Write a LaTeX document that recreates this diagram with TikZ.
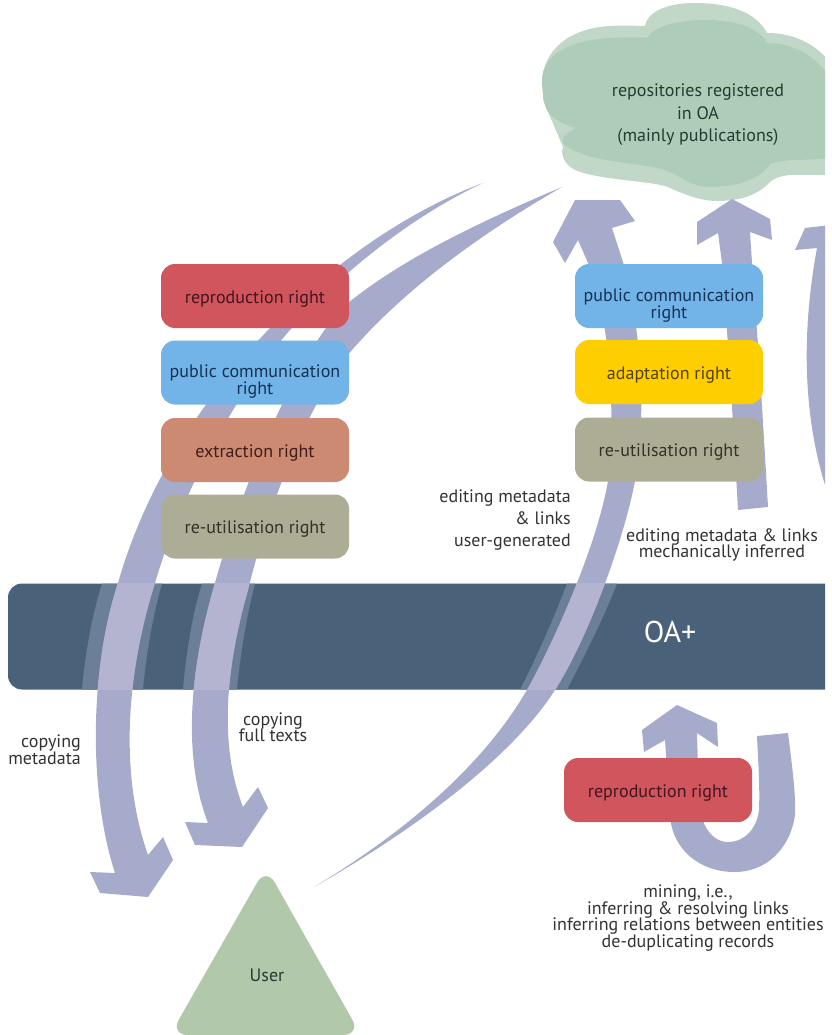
\documentclass[tikz,border=0pt]{standalone}
\usepackage{fontspec}
\setmainfont{PT Sans}
\usetikzlibrary{calc}

\definecolor{flowcol}{RGB}{166,171,204}
\definecolor{overcol}{RGB}{180,179,208}
\definecolor{halocol}{RGB}{107,127,153}
\definecolor{bandcol}{RGB}{74,97,122}
\definecolor{redcol}{RGB}{208,85,92}
\definecolor{bluecol}{RGB}{115,180,232}
\definecolor{extrcol}{RGB}{204,138,114}
\definecolor{reutcol}{RGB}{173,173,150}
\definecolor{yellcol}{RGB}{255,206,0}
\definecolor{cloudback}{RGB}{193,216,200}
\definecolor{cloudfront}{RGB}{174,205,185}
\definecolor{usercol}{RGB}{177,200,170}
\definecolor{labelcol}{RGB}{50,50,50}
\definecolor{redtxt}{RGB}{70,20,30}
\definecolor{bluetxt}{RGB}{20,50,85}
\definecolor{extrtxt}{RGB}{65,30,25}
\definecolor{reuttxt}{RGB}{50,50,40}
\definecolor{yelltxt}{RGB}{85,65,0}
\definecolor{greentxt}{RGB}{35,60,50}

\newcommand\dropone{\rule{0pt}{18pt}}
\newcommand\droptwo{\rule{0pt}{31pt}}
\AtBeginDocument{\lineskiplimit=-20pt}

% flow shapes
\def\flowA{(483,183) .. controls (330,240) and (170,400) .. (118,583) .. controls (90,668) and (88,790) .. (115,873)
  -- (90,872) -- (100,893) -- (148,897) -- (173,860) -- (163,837) -- (148,855)
  .. controls (118,770) and (128,668) .. (155,583) .. controls (185,480) and (250,375) .. (290,330) .. controls (330,285) and (400,222) .. (483,183) -- cycle}
\def\flowB{(562,187) .. controls (460,230) and (395,265) .. (348,303) .. controls (300,345) and (240,490) .. (213,590) .. controls (196,650) and (178,745) .. (208,823)
  -- (185,822) -- (195,845) -- (242,847) -- (268,808) -- (258,787) -- (243,807)
  .. controls (215,735) and (231,650) .. (248,590) .. controls (270,500) and (310,400) .. (352,350) .. controls (400,295) and (470,240) .. (562,187) -- cycle}
\def\flowC{(314,887) .. controls (400,835) and (480,770) .. (527,690) .. controls (555,640) and (597,545) .. (608,481) .. controls (615,410) and (612,330) .. (588,263) -- (578,240)
  -- (565,263) -- (553,242) -- (575,200) -- (620,200) -- (635,221) -- (612,228) -- (623,262)
  .. controls (635,300) and (650,400) .. (635,481) .. controls (625,535) and (590,635) .. (555,690) .. controls (520,745) and (440,815) .. (314,887) -- cycle}

\begin{document}
\begin{tikzpicture}[x=1pt, y=-1pt,
    flow/.style={fill=flowcol},
    rightbox/.style={minimum width=188pt, minimum height=64pt, rounded corners=14pt, inner sep=0pt, align=center, font=\fontsize{18}{17}\selectfont},
    txt/.style={text=labelcol, inner sep=0pt, align=center, font=\fontsize{18}{17}\selectfont}]

\useasboundingbox (0,0) rectangle (831,1035);

% cloud
\begin{scope}
\clip (500,0) rectangle (825,300);
\fill[cloudback] (543,80) .. controls (543,50) and (570,28) .. (610,26) .. controls (625,25) and (637,26) .. (645,26) .. controls (648,10) and (670,3) .. (695,3) .. controls (725,3) and (755,10) .. (767,33) .. controls (795,33) and (820,45) .. (835,70) -- (835,175) -- (790,175) .. controls (780,176) and (775,178) .. (770,182) .. controls (755,198) and (735,201) .. (715,201) .. controls (695,200) and (680,192) .. (665,186) .. controls (640,180) and (600,180) .. (575,170) .. controls (565,165) and (560,155) .. (563,147) -- (543,100) -- cycle;
\fill[cloudfront] (542,80) .. controls (542,55) and (570,40) .. (610,38) .. controls (625,37) and (640,37) .. (647,38) .. controls (655,25) and (680,20) .. (705,20) .. controls (730,20) and (757,25) .. (767,43) .. controls (795,43) and (820,58) .. (835,85) -- (835,158) -- (800,160) .. controls (785,160) and (775,162) .. (770,164) .. controls (760,180) and (735,187) .. (710,187) .. controls (690,187) and (680,175) .. (665,170) .. controls (640,163) and (600,162) .. (580,153) .. controls (565,148) and (560,142) .. (564,137) .. controls (567,133) and (572,130) .. (576,128) .. controls (565,125) and (548,118) .. (545,105) .. controls (543,97) and (542,88) .. (542,80) -- cycle;
\end{scope}

% OA+ band with the crossings
\fill[bandcol] (825,583.5) -- (22,583.5) arc (270:180:14) -- (8,675.5) arc (180:90:14) -- (825,689.5) -- cycle;
\begin{scope}
\clip (0,583.5) rectangle (825,689.5);
\fill[halocol] (102,583.5) .. controls (92,615) and (85,655) .. (82,689.5) -- (143,689.5) .. controls (146,655) and (153,615) .. (162,583.5) -- cycle;
\fill[halocol] (202,583.5) .. controls (192,615) and (186,655) .. (183,689.5) -- (237,689.5) .. controls (240,655) and (247,615) .. (255,583.5) -- cycle;
\fill[halocol] (567,583.5) .. controls (555,615) and (538,655) .. (520,689.5) -- (567,689.5) .. controls (585,655) and (605,615) .. (617,583.5) -- cycle;
\end{scope}

% flows
\fill[flow] \flowA;
\fill[flow] \flowB;
\fill[flow] \flowC;
\fill[flow] (738,510) .. controls (733,420) and (728,340) .. (722,263) -- (718,233) -- (697,245) -- (697,222) -- (732,199) -- (770,219) -- (772,240) -- (750,232) -- (752,263) .. controls (758,340) and (763,420) .. (768,507) -- cycle;
\begin{scope}
\clip (700,200) rectangle (825,500);
\fill[flow] (795,250) -- (805,228) -- (830,225) -- (830,490) -- (825,485) .. controls (805,420) and (800,340) .. (817,248) -- cycle;
\end{scope}
\fill[flow] (757,736) -- (788,733) .. controls (792,765) and (796,795) .. (795,815) .. controls (790,850) and (765,872) .. (735,872) .. controls (700,872) and (672,850) .. (670,815) -- (665,740) -- (644,752) -- (642,730) -- (677,705) -- (717,723) -- (718,747) -- (697,733) -- (699,800) .. controls (700,825) and (712,842) .. (728,842) .. controls (745,842) and (757,828) .. (759,810) .. controls (760,785) and (758,760) .. (757,736) -- cycle;

\begin{scope}
\clip (0,583.5) rectangle (825,689.5);
\fill[overcol] \flowA;
\fill[overcol] \flowB;
\fill[overcol] \flowC;
\end{scope}

% User
\fill[usercol, rounded corners=18pt] (266,867) -- (170,1035) -- (361,1035) -- cycle;

% rights, left column
\node[rightbox, fill=redcol, text=redtxt] at (255,296) (ReprodL) {\dropone reproduction right};
\node[rightbox, fill=bluecol, text=bluetxt] at (255,372.5) (PublicL) {\droptwo public communication\\right};
\node[rightbox, fill=extrcol, text=extrtxt] at (255,450) (Extract) {\dropone extraction right};
\node[rightbox, fill=reutcol, text=reuttxt] at (255,526.5) (ReutilL) {\dropone re-utilisation right};

% rights, middle column
\node[rightbox, fill=bluecol, text=bluetxt] at (669,296) (PublicM) {\droptwo public communication\\right};
\node[rightbox, fill=yellcol, text=yelltxt] at (669,372) (Adapt) {\dropone adaptation right};
\node[rightbox, fill=reutcol, text=reuttxt] at (669,449.5) (ReutilM) {\dropone re-utilisation right};
\node[rightbox, fill=redcol, text=redtxt] at (658,790) (ReprodB) {\dropone reproduction right};

% labels
\node[txt, text=greentxt, font=\fontsize{18}{22.5}\selectfont] at (698,115) (Repos) {repositories registered\\in OA\\(mainly publications)};
\node[txt, font=\fontsize{18}{22}\selectfont, align=right, anchor=east] at (571,520) (EditUser) {editing metadata\\\& links\\user-generated};
\node[txt, font=\fontsize{18}{16}\selectfont] at (722,545) (EditMech) {editing metadata \& links\\mechanically inferred};
\node[txt, align=right, anchor=east] at (81,750) (CopyMeta) {copying\\metadata};
\node[txt, font=\fontsize{18}{16}\selectfont] at (273,727) (CopyFull) {copying\\full texts};
\node[txt, font=\fontsize{18}{16.5}\selectfont] at (688,918) (Mining) {mining, i.e.,\\inferring \& resolving links\\inferring relations between entities\\de-duplicating records};
\node[txt, text=greentxt] at (267,975) (User) {User};
\node[txt, text=white, font=\fontsize{30}{30}\selectfont] at (670,632) (OAplus) {OA+};

\end{tikzpicture}
\end{document}
